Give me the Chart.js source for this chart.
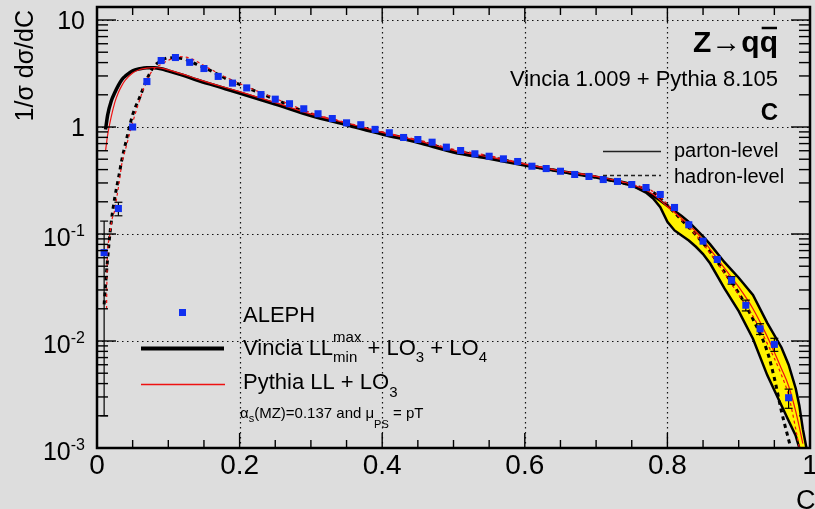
<!DOCTYPE html>
<html>
<head>
<meta charset="utf-8">
<script src="https://cdn.jsdelivr.net/npm/chart.js@4.4.0/dist/chart.umd.min.js"></script>
<style>
  html, body { margin: 0; padding: 0; background: #dddddd; }
  canvas { display: block; }
</style>
</head>
<body>
<canvas id="c" width="815" height="509"></canvas>
<script>
// ALEPH C-parameter measurement (bin centres)
const alephC = [0.01, 0.03, 0.05, 0.07, 0.09, 0.11, 0.13, 0.15, 0.17, 0.19, 0.21, 0.23, 0.25, 0.27, 0.29,
  0.31, 0.33, 0.35, 0.37, 0.39, 0.41, 0.43, 0.45, 0.47, 0.49, 0.51, 0.53, 0.55, 0.57, 0.59, 0.61, 0.63,
  0.65, 0.67, 0.69, 0.71, 0.73, 0.75, 0.77, 0.79, 0.81, 0.83, 0.85, 0.87, 0.89, 0.91, 0.93, 0.95, 0.97];
const alephY = [0.067, 0.173, 1.0, 2.66, 4.18, 4.46, 4.02, 3.52, 2.97, 2.57, 2.32, 2.01, 1.82, 1.65, 1.48,
  1.33, 1.2, 1.094, 1.05, 0.95, 0.883, 0.798, 0.764, 0.721, 0.648, 0.603, 0.562, 0.533, 0.504, 0.476, 0.43, 0.409,
  0.386, 0.36, 0.345, 0.323, 0.31, 0.29, 0.272, 0.234, 0.177, 0.122, 0.0857, 0.0578, 0.037, 0.0216, 0.013, 0.0093, 0.00295];
const alephErr = [0.065, 0.025, 0, 0, 0, 0, 0, 0, 0, 0, 0, 0, 0, 0, 0,
  0, 0, 0, 0, 0, 0, 0, 0, 0, 0, 0, 0, 0, 0, 0, 0, 0,
  0, 0, 0, 0, 0, 0, 0, 0, 0, 0, 0, 0, 0.003, 0.0025, 0.0015, 0.0013, 0.0006];

// Vincia parton level (solid black)
const vinciaPartonC = [0.012, 0.015, 0.02, 0.025, 0.03, 0.035, 0.04, 0.05, 0.06, 0.07, 0.08, 0.09, 0.1, 0.12,
  0.14, 0.16, 0.18, 0.2, 0.25, 0.3, 0.35, 0.4, 0.45, 0.5, 0.55, 0.6, 0.65, 0.7, 0.72, 0.74, 0.75];
const vinciaPartonY = [0.95, 1.3, 1.75, 2.1, 2.45, 2.78, 3.0, 3.35, 3.5, 3.58, 3.58, 3.5, 3.35, 3.05,
  2.75, 2.5, 2.28, 2.08, 1.64, 1.28, 1.05, 0.86, 0.72, 0.585, 0.51, 0.44, 0.385, 0.34, 0.32, 0.3, 0.285];

// Vincia hadron level (dashed black)
const vinciaHadronC = [0.01, 0.015, 0.02, 0.025, 0.03, 0.035, 0.04, 0.05, 0.06, 0.07, 0.08, 0.09, 0.1, 0.12,
  0.14, 0.16, 0.18, 0.2, 0.25, 0.3, 0.35, 0.4, 0.45, 0.5, 0.55, 0.6, 0.65, 0.7, 0.75, 0.78, 0.8, 0.82,
  0.84, 0.86, 0.88, 0.9, 0.92, 0.94, 0.95, 0.96, 0.97, 0.975];
const vinciaHadronY = [0.022, 0.06, 0.13, 0.22, 0.33, 0.5, 0.7, 1.3, 1.9, 2.8, 3.7, 4.15, 4.43, 4.35,
  3.85, 3.35, 2.85, 2.5, 1.81, 1.32, 1.07, 0.88, 0.74, 0.6, 0.525, 0.445, 0.385, 0.34, 0.285, 0.245, 0.185, 0.135,
  0.098, 0.068, 0.044, 0.028, 0.016, 0.008, 0.0045, 0.0022, 0.0012, 0.0009];

// Pythia parton level (solid red)
const pythiaPartonC = [0.012, 0.015, 0.02, 0.025, 0.03, 0.035, 0.04, 0.05, 0.06, 0.07, 0.08, 0.09, 0.1, 0.12,
  0.14, 0.16, 0.18, 0.2, 0.25, 0.3, 0.35, 0.4, 0.45, 0.5, 0.55, 0.6, 0.65, 0.7, 0.75, 0.78, 0.8, 0.82,
  0.84, 0.86, 0.88, 0.9, 0.92, 0.94, 0.96, 0.97, 0.98, 0.99];
const pythiaPartonY = [0.6, 0.85, 1.25, 1.7, 2.1, 2.45, 2.75, 3.2, 3.45, 3.55, 3.6, 3.55, 3.42, 3.12,
  2.82, 2.56, 2.34, 2.14, 1.69, 1.32, 1.09, 0.89, 0.745, 0.605, 0.525, 0.45, 0.39, 0.345, 0.29, 0.235, 0.18, 0.14,
  0.105, 0.072, 0.048, 0.032, 0.02, 0.011, 0.0055, 0.0038, 0.0022, 0.0011];

// Pythia hadron level (dashed red)
const pythiaHadronC = [0.0134, 0.0145, 0.017, 0.021, 0.024, 0.028, 0.031, 0.035, 0.04, 0.05, 0.06, 0.07, 0.08,
  0.09, 0.1, 0.115, 0.13, 0.15, 0.175, 0.2, 0.25, 0.3, 0.35, 0.4, 0.45, 0.5, 0.55, 0.6, 0.65, 0.7, 0.75,
  0.78, 0.8, 0.82, 0.84, 0.86, 0.88, 0.9, 0.92, 0.94, 0.96, 0.97, 0.98, 0.985];
const pythiaHadronY = [0.02, 0.062, 0.089, 0.137, 0.158, 0.225, 0.3, 0.46, 0.62, 1.1, 1.8, 2.75, 3.5,
  3.85, 4.2, 4.55, 4.4, 3.75, 3.05, 2.55, 1.85, 1.36, 1.1, 0.9, 0.76, 0.62, 0.54, 0.455, 0.39, 0.345, 0.29,
  0.25, 0.19, 0.135, 0.098, 0.066, 0.043, 0.027, 0.017, 0.0095, 0.0048, 0.0031, 0.0015, 0.001];

// variation band at large C
const bandC  = [0.75, 0.77, 0.78, 0.79, 0.8, 0.81, 0.82, 0.83, 0.84, 0.85, 0.86, 0.88, 0.9, 0.92, 0.94, 0.96, 0.97, 0.98, 0.985, 0.99, 0.995];
const bandHi = [0.285, 0.25, 0.228, 0.205, 0.183, 0.165, 0.147, 0.13, 0.111, 0.095, 0.08, 0.0545, 0.039, 0.027, 0.0148, 0.0087, 0.006, 0.0036, 0.0025, 0.0015, 0.001];
const bandLo = [0.285, 0.244, 0.215, 0.178, 0.13, 0.108, 0.097, 0.087, 0.076, 0.065, 0.053, 0.031, 0.019, 0.0105, 0.0048, 0.0025, 0.0018, 0.0013, 0.001, 0.0008, 0.0008];

// axis ticks
const xMajor = [0, 0.2, 0.4, 0.6, 0.8, 1];
const xLabels = ['0', '0.2', '0.4', '0.6', '0.8', '1'];
const xGrid = [0.2, 0.4, 0.6, 0.8];
const yMajor = [0.001, 0.01, 0.1, 1, 10];
const yLabelBase = ['10', '10', '10', '1', '10'];
const yLabelExp = ['-3', '-2', '-1', '', ''];
const yGrid = [0.01, 0.1, 1, 10];

const FONT = '"Liberation Sans", Arial, Helvetica, sans-serif';
const pts = (cs, ys) => cs.map((c, i) => ({ x: c, y: ys[i] }));

function seg(ctx, x1, y1, x2, y2) {
  ctx.beginPath(); ctx.moveTo(x1, y1); ctx.lineTo(x2, y2); ctx.stroke();
}

// text with sub/superscripts: pieces of {t, size, dy, hold}
function drawRich(ctx, x, y, pieces) {
  let cx = x, held = 0;
  pieces.forEach(p => {
    ctx.font = (p.bold ? 'bold ' : '') + p.size + 'px ' + FONT;
    ctx.fillText(p.t, cx, y + (p.dy || 0));
    const w = ctx.measureText(p.t).width;
    if (p.hold) held = Math.max(held, w);
    else { cx += Math.max(w, held); held = 0; }
  });
  return cx;
}

const rootFrame = {
  id: 'rootFrame',
  beforeDatasetsDraw(chart) {
    const { ctx, chartArea: a, scales: { x, y } } = chart;
    ctx.save();
    ctx.strokeStyle = '#111';
    ctx.lineWidth = 1.2;
    ctx.setLineDash([1.5, 3.5]);
    xGrid.forEach(v => { const p = Math.round(x.getPixelForValue(v)) + 0.5; seg(ctx, p, a.top, p, a.bottom); });
    yGrid.forEach(v => { const p = Math.round(y.getPixelForValue(v)) + 0.5; seg(ctx, a.left, p, a.right, p); });
    ctx.restore();
  },
  beforeDatasetDraw(chart, args) {
    if (args.index !== 0) return;
    const { ctx, scales: { x, y } } = chart;
    ctx.save();
    ctx.strokeStyle = '#000';
    ctx.lineWidth = 1.2;
    alephC.forEach((c, i) => {
      const e = alephErr[i];
      if (!e) return;
      const px = x.getPixelForValue(c);
      const top = y.getPixelForValue(alephY[i] + e);
      const bot = y.getPixelForValue(Math.max(alephY[i] - e, 1e-4));
      seg(ctx, px, top, px, bot);
      seg(ctx, px - 4, top, px + 4, top);
      if (bot < chart.chartArea.bottom) seg(ctx, px - 4, bot, px + 4, bot);
    });
    ctx.restore();
  },
  afterDatasetsDraw(chart) {
    const { ctx, chartArea: a, scales: { x, y } } = chart;
    ctx.save();
    ctx.strokeStyle = '#000';
    ctx.lineWidth = 1.4;
    // x ticks (bottom and top, inside)
    for (let k = 0; k <= 20; k++) {
      const v = k * 0.05, p = x.getPixelForValue(v);
      const len = k % 4 === 0 ? 15 : 8;
      seg(ctx, p, a.bottom, p, a.bottom - len);
      seg(ctx, p, a.top, p, a.top + len);
    }
    // y ticks (left and right, inside)
    for (let d = -3; d <= 1; d++) {
      for (let m = 1; m <= 9; m++) {
        const v = m * Math.pow(10, d);
        if (v > y.max) break;
        const p = y.getPixelForValue(v);
        const len = m === 1 ? 19 : 11;
        seg(ctx, a.left, p, a.left + len, p);
        seg(ctx, a.right, p, a.right - len, p);
      }
    }
    ctx.lineWidth = 2.5;
    ctx.strokeRect(a.left, a.top, a.right - a.left, a.bottom - a.top);
    ctx.restore();
  },
  afterDraw(chart) {
    const { ctx, chartArea: a, scales: { x, y } } = chart;
    ctx.save();
    ctx.fillStyle = '#000';

    // x tick labels
    ctx.font = '28px ' + FONT;
    ctx.textAlign = 'center';
    xMajor.forEach((v, i) => ctx.fillText(xLabels[i], x.getPixelForValue(v), 474));

    // y tick labels
    yMajor.forEach((v, i) => {
      const p = y.getPixelForValue(v);
      ctx.textAlign = 'right';
      if (yLabelExp[i]) {
        ctx.font = '16px ' + FONT;
        const ew = ctx.measureText(yLabelExp[i]).width;
        ctx.fillText(yLabelExp[i], 85, p + 2);
        ctx.font = '25px ' + FONT;
        ctx.fillText(yLabelBase[i], 85 - ew, p + 12);
      } else {
        ctx.font = '25px ' + FONT;
        ctx.fillText(yLabelBase[i], 85, p + 9);
      }
    });

    // axis titles
    ctx.save();
    ctx.translate(33, 10);
    ctx.rotate(-Math.PI / 2);
    ctx.textAlign = 'right';
    ctx.font = '25px ' + FONT;
    ctx.fillText('1/σ dσ/dC', 0, 0);
    ctx.restore();
    ctx.textAlign = 'left';
    ctx.font = '27px ' + FONT;
    ctx.fillText('C', 796, 509);

    // process label, top right
    ctx.font = 'bold 30px ' + FONT;
    const zw = ctx.measureText('Z→qq').width;
    const qw = ctx.measureText('q').width;
    ctx.textAlign = 'left';
    ctx.fillText('Z→qq', 778 - zw, 52);
    ctx.lineWidth = 2.5;
    ctx.strokeStyle = '#000';
    seg(ctx, 778 - qw + 2, 28, 778 - 1, 28);
    ctx.textAlign = 'right';
    ctx.font = '22px ' + FONT;
    ctx.fillText('Vincia 1.009 + Pythia 8.105', 778, 86);
    ctx.font = 'bold 24px ' + FONT;
    ctx.fillText('C', 778, 120);

    // parton / hadron key
    ctx.textAlign = 'left';
    ctx.font = '20px ' + FONT;
    ctx.fillText('parton-level', 674, 157);
    ctx.fillText('hadron-level', 674, 183);
    ctx.strokeStyle = '#222';
    ctx.lineWidth = 1.5;
    seg(ctx, 603, 151.5, 661, 151.5);
    ctx.setLineDash([4, 3]);
    seg(ctx, 603, 175.5, 661, 175.5);
    ctx.setLineDash([]);

    // model legend, bottom left
    ctx.fillStyle = '#1030f0';
    ctx.fillRect(179, 309, 7, 7);
    ctx.strokeStyle = '#000';
    ctx.lineWidth = 4;
    seg(ctx, 141, 348.5, 224, 348.5);
    ctx.strokeStyle = '#ee1111';
    ctx.lineWidth = 1.5;
    seg(ctx, 141, 384.5, 225, 384.5);

    ctx.fillStyle = '#000';
    drawRich(ctx, 243, 322, [{ t: 'ALEPH', size: 22 }]);
    drawRich(ctx, 243, 355, [
      { t: 'Vincia LL', size: 22 },
      { t: 'max', size: 15, dy: -13, hold: true },
      { t: 'min', size: 15, dy: 7 },
      { t: ' + LO', size: 22 },
      { t: '3', size: 15, dy: 7 },
      { t: ' + LO', size: 22 },
      { t: '4', size: 15, dy: 7 }
    ]);
    drawRich(ctx, 243, 389, [
      { t: 'Pythia LL + LO', size: 22 },
      { t: '3', size: 15, dy: 8 }
    ]);
    drawRich(ctx, 240, 418, [
      { t: 'α', size: 15 },
      { t: 's', size: 11, dy: 4 },
      { t: '(MZ)=0.137 and μ', size: 15 },
      { t: 'PS', size: 11, dy: 10 },
      { t: ' = pT', size: 15 }
    ]);
    ctx.restore();
  }
};

new Chart(document.getElementById('c'), {
  type: 'line',
  data: {
    datasets: [
      { label: 'ALEPH', data: pts(alephC, alephY), showLine: false, pointStyle: 'rect',
        pointRadius: 5, pointBackgroundColor: '#1030f0', pointBorderWidth: 0, order: 0 },
      { label: 'Vincia parton', data: pts(vinciaPartonC, vinciaPartonY), borderColor: '#000',
        borderWidth: 3.5, pointRadius: 0, cubicInterpolationMode: 'monotone', order: 3 },
      { label: 'Vincia hadron', data: pts(vinciaHadronC, vinciaHadronY), borderColor: '#000',
        borderWidth: 3, borderDash: [4, 4], pointRadius: 0, cubicInterpolationMode: 'monotone', order: 4 },
      { label: 'Pythia parton', data: pts(pythiaPartonC, pythiaPartonY), borderColor: '#ee1111',
        borderWidth: 1.2, pointRadius: 0, cubicInterpolationMode: 'monotone', order: 1 },
      { label: 'Pythia hadron', data: pts(pythiaHadronC, pythiaHadronY), borderColor: '#ee1111',
        borderWidth: 1.2, borderDash: [3, 3], pointRadius: 0, cubicInterpolationMode: 'monotone', order: 2 },
      { label: 'band low', data: pts(bandC, bandLo), borderColor: '#000', borderWidth: 2.5,
        pointRadius: 0, fill: false, order: 5 },
      { label: 'band high', data: pts(bandC, bandHi), borderColor: '#000', borderWidth: 2.5,
        pointRadius: 0, fill: '-1', backgroundColor: '#fff200', order: 6 }
    ]
  },
  options: {
    responsive: false,
    animation: false,
    devicePixelRatio: 1,
    layout: { padding: { left: 97, right: 1, top: 7, bottom: 61 } },
    scales: {
      x: { type: 'linear', min: 0, max: 1, display: false },
      y: { type: 'logarithmic', min: 0.001, max: 13.23, display: false }
    },
    plugins: { legend: { display: false }, tooltip: { enabled: false } }
  },
  plugins: [rootFrame]
});
</script>
</body>
</html>
